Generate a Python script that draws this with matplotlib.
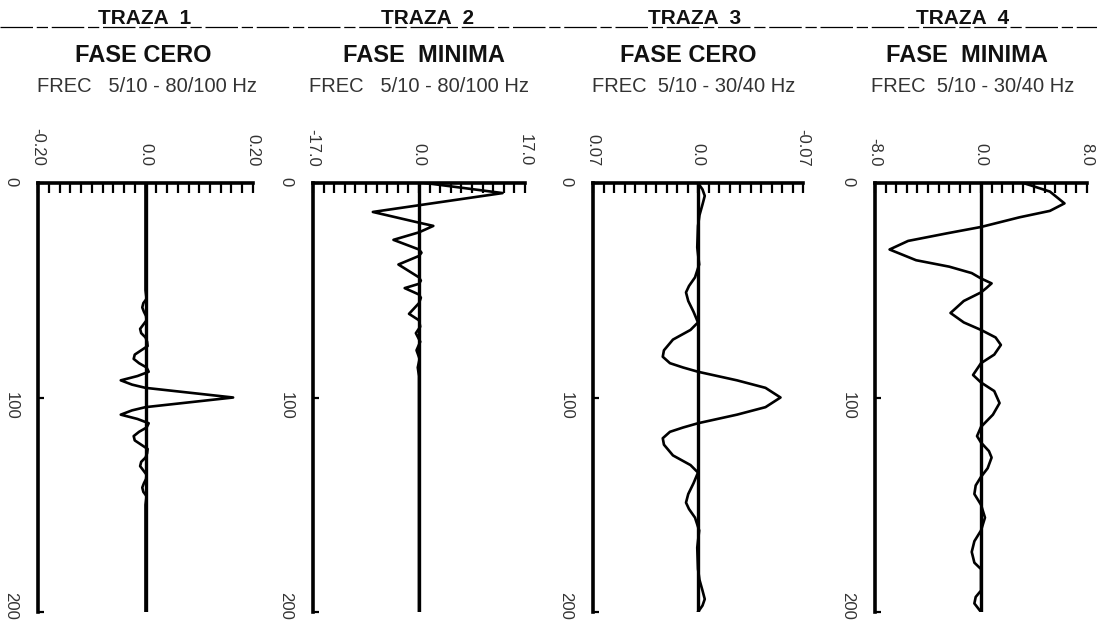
import matplotlib.pyplot as plt
from matplotlib.lines import Line2D
from matplotlib.transforms import ScaledTranslation

plt.rcParams['font.family'] = ['Liberation Sans', 'DejaVu Sans']

# trace 1 - zero phase 5/10-80/100 Hz
t1 = [0, 50, 54, 56, 58, 60, 62, 64, 66, 68, 70, 72, 74, 76, 78, 80, 82, 84, 86, 88, 90, 92, 94, 95.5,
      100, 104.5, 106, 108, 110, 112, 114, 116, 118, 120, 122, 124, 126, 128, 130, 132, 134, 136, 138,
      140, 142, 144, 146, 150, 200]
a1 = [0, 0, 0.002, -0.004, -0.006, -0.003, 0.001, 0.002, -0.004, -0.010, -0.008, 0, 0.003, 0.004,
      -0.008, -0.020, -0.022, -0.012, 0.002, 0.006, -0.015, -0.046, -0.025, 0, 0.163, 0, -0.025, -0.046,
      -0.015, 0.006, 0.002, -0.012, -0.022, -0.020, -0.008, 0.004, 0.003, 0, -0.008, -0.010, -0.004,
      0.002, 0.001, -0.003, -0.006, -0.004, 0.002, 0, 0]

# trace 2 - minimum phase 5/10-80/100 Hz
t2 = [0, 4.7, 13.5, 18.5, 20, 23, 26.5, 31, 32.5, 34, 38, 44, 45.5, 47, 49, 52, 53.5, 56, 61, 64,
      67, 70, 74, 78, 82, 86, 90, 200]
a2 = [1.0, 13.4, -7.4, 0, 2.3, 0, -4.1, 0, 0.4, 0, -3.3, 0, 0.3, 0, -2.3, 0, 0.3, 0, -1.6, 0,
      0.2, -0.5, 0.2, -0.4, 0.1, -0.2, 0, 0]

# trace 3 - zero phase 5/10-30/40 Hz (axis drawn reversed)
t3 = [0, 3, 6, 10, 15, 20, 30, 38, 44, 48, 51, 55, 60, 65, 68.5, 73, 78, 81, 84, 86, 88, 92, 95.5,
      100, 104.5, 108, 112, 114, 116, 119, 122, 127, 131.5, 135, 140, 145, 149, 152, 156, 162, 170,
      180, 185, 190, 194, 197, 200]
a3 = [0, -0.003, -0.0045, -0.003, -0.001, 0, 0.0005, -0.0008, 0.002, 0.006, 0.008, 0.0065, 0.003, 0,
      0.005, 0.0167, 0.0227, 0.0235, 0.0187, 0.010, 0, -0.026, -0.045, -0.055, -0.045, -0.026, 0,
      0.010, 0.0187, 0.0235, 0.0227, 0.0167, 0.005, 0, 0.003, 0.0065, 0.008, 0.006, 0.002, -0.0008,
      0.0005, 0, -0.001, -0.003, -0.0045, -0.003, 0]

# trace 4 - minimum phase 5/10-30/40 Hz
t4 = [0, 4, 9.5, 13, 16, 20.5, 23.5, 27, 31, 36, 39, 42, 44.5, 46.8, 49, 51, 55, 60.6, 65, 68.5,
      72, 75.5, 80, 84, 89.5, 93, 97, 102.6, 108, 113.7, 118, 121, 125, 128, 133, 137, 141, 145,
      150, 156, 162, 167, 172, 177, 180, 190, 193, 196, 200]
a4 = [3.2, 5.2, 6.3, 5.2, 2.9, 0, -2.6, -5.5, -6.9, -4.9, -2.4, -0.7, 0, 0.8, 0.4, 0, -1.3, -2.3,
      -1.3, 0, 1.1, 1.5, 1.0, 0, -0.6, 0, 1.0, 1.4, 0.9, 0, -0.3, 0, 0.6, 0.8, 0.5, 0, -0.4, -0.5,
      0, 0.3, 0, -0.5, -0.7, -0.5, 0, 0, -0.4, -0.5, 0]

times = [t1, t2, t3, t4]
amps = [a1, a2, a3, a4]
xlims = [(-0.20, 0.20), (-17.0, 17.0), (0.07, -0.07), (-8.0, 8.0)]
xlabels = [['-0.20', '0.0', '0.20'], ['-17.0', '0.0', '17.0'],
           ['0.07', '0.0', '-0.07'], ['-8.0', '0.0', '8.0']]
trazas = ['TRAZA  1', 'TRAZA  2', 'TRAZA  3', 'TRAZA  4']
fases = ['FASE CERO', 'FASE  MINIMA', 'FASE CERO', 'FASE  MINIMA']
frecs = ['FREC   5/10 - 80/100 Hz', 'FREC   5/10 - 80/100 Hz',
         'FREC  5/10 - 30/40 Hz', 'FREC  5/10 - 30/40 Hz']
title_x = [[145, 428, 695, 963], [143, 424, 688, 967], [147, 419, 694, 973]]

W, H = 1097, 627
panels = [(38, 253), (313, 525), (593, 803), (875, 1087)]
top, bottom = 183, 612

fig = plt.figure(figsize=(W / 100, H / 100), dpi=100)

for i in range(4):
    l, r = panels[i]
    ax = fig.add_axes([l / W, 1 - bottom / H, (r - l) / W, (bottom - top) / H])
    ax.plot(amps[i], times[i], color='black', lw=1.9, solid_joinstyle='round')
    ax.axvline(0, color='black', lw=2.4)
    ax.set_ylim(200, 0)
    lo, hi = xlims[i]
    ax.set_xlim(lo, hi)
    for s in ['right', 'bottom']:
        ax.spines[s].set_visible(False)
    for s in ['top', 'left']:
        ax.spines[s].set_linewidth(2.6)
    ax.xaxis.set_ticks_position('top')
    ax.set_xticks([lo, 0, hi])
    ax.set_xticklabels(xlabels[i])
    step = (hi - lo) / 20
    ax.set_xticks([lo + k * step for k in range(21)], minor=True)
    ax.tick_params(axis='x', which='both', direction='in', length=7, width=1.6,
                   pad=12, labelrotation=-90, labelsize=12, labelcolor='#333333')
    ax.set_yticks([0, 100, 200])
    ax.set_yticklabels(['0', '100', '200'])
    ax.tick_params(axis='y', direction='in', length=4, width=1.6, pad=14,
                   labelrotation=-90, labelsize=12, labelcolor='#333333')
    # the 200 label sits a little above its tick
    lab = ax.get_yticklabels()[-1]
    lab.set_transform(lab.get_transform() + ScaledTranslation(0, 10 / 72, fig.dpi_scale_trans))

    fig.text(title_x[0][i] / W, 1 - 19 / H, trazas[i], ha='center', va='center',
             fontsize=15, fontweight='bold', color='#111111')
    fig.text(title_x[1][i] / W, 1 - 56 / H, fases[i], ha='center', va='center',
             fontsize=17, fontweight='bold', color='#111111')
    fig.text(title_x[2][i] / W, 1 - 87 / H, frecs[i], ha='center', va='center',
             fontsize=14.5, color='#333333')

# broken rule through the TRAZA titles
fig.add_artist(Line2D([0, 1], [1 - 27 / H, 1 - 27 / H], transform=fig.transFigure,
                      color='black', lw=0.9, dashes=(26, 3, 9, 3)))

fig.savefig('out.png', dpi=100)
